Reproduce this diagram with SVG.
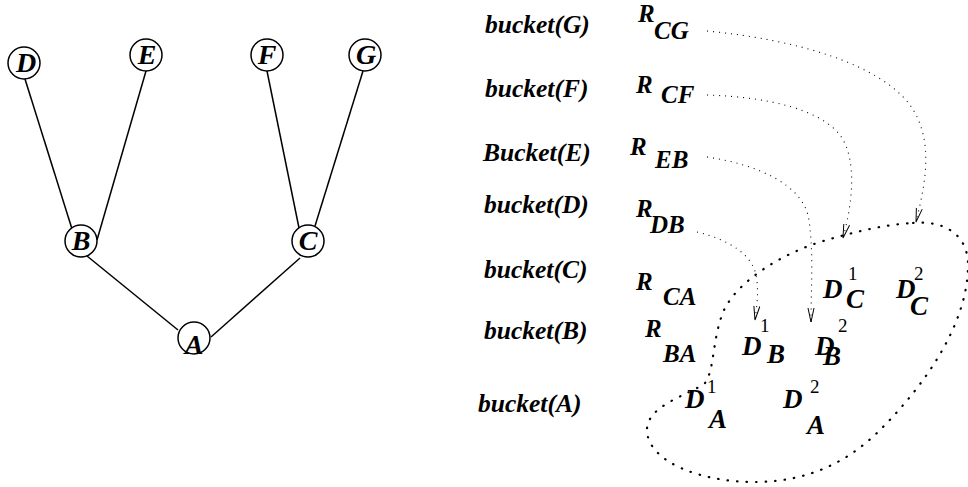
<svg xmlns="http://www.w3.org/2000/svg" width="968" height="487" viewBox="0 0 968 487">
<style>
  .bg{fill:#fff}
  .node circle{fill:#fff;stroke:#000;stroke-width:1.5}
  .nl{font-family:"Liberation Serif","Times New Roman",serif;font-weight:bold;font-style:italic;font-size:28px;text-anchor:middle;fill:#000}
  .edge{stroke:#000;stroke-width:1.5;fill:none}
  .lbl{font-family:"Liberation Serif","Times New Roman",serif;font-weight:bold;font-style:italic;font-size:25.5px;fill:#000}
  .r{font-family:"Liberation Serif","Times New Roman",serif;font-weight:bold;font-style:italic;font-size:25px;fill:#000}
  .d{font-family:"Liberation Serif","Times New Roman",serif;font-weight:bold;font-style:italic;font-size:27px;fill:#000}
  .sup{font-family:"Liberation Serif","Times New Roman",serif;font-size:19px;fill:#000}
  .arr{stroke:#000;stroke-width:1.1;fill:none;stroke-dasharray:1 5;marker-end:url(#v)}
  .blob{stroke:#000;stroke-width:2.2;fill:none;stroke-dasharray:0.5 9;stroke-linecap:round}
</style>
<defs>
  <marker id="v" markerUnits="userSpaceOnUse" markerWidth="16" markerHeight="10" refX="14" refY="4" orient="auto">
    <path d="M0,1 L14,4 L0,7" fill="none" stroke="#000" stroke-width="1"/>
  </marker>
</defs>
<rect class="bg" x="0" y="0" width="968" height="487"/>

<g id="tree-edges">
  <line class="edge" x1="25" y1="79" x2="72" y2="229"/>
  <line class="edge" x1="146" y1="71" x2="97" y2="240"/>
  <line class="edge" x1="267" y1="71" x2="299" y2="228"/>
  <line class="edge" x1="363" y1="71" x2="315" y2="226"/>
  <line class="edge" x1="87" y1="256" x2="178" y2="330"/>
  <line class="edge" x1="211" y1="337" x2="300" y2="258"/>
</g>

<g id="node-D" class="node"><circle cx="24" cy="63" r="16"/><text class="nl" x="26" y="72">D</text></g>
<g id="node-E" class="node"><circle cx="146" cy="55" r="16"/><text class="nl" x="147" y="64">E</text></g>
<g id="node-F" class="node"><circle cx="267" cy="55" r="16"/><text class="nl" x="267" y="64">F</text></g>
<g id="node-G" class="node"><circle cx="365" cy="55" r="16"/><text class="nl" x="366" y="64">G</text></g>
<g id="node-B" class="node"><circle cx="81" cy="241" r="16"/><text class="nl" x="81" y="250">B</text></g>
<g id="node-C" class="node"><circle cx="308" cy="241" r="16"/><text class="nl" x="308" y="250">C</text></g>
<g id="node-A" class="node"><circle cx="194" cy="338" r="16"/><text class="nl" x="194" y="354">A</text></g>

<g id="bucket-labels">
  <text class="lbl" x="485" y="33">bucket(G)</text>
  <text class="lbl" x="485" y="97">bucket(F)</text>
  <text class="lbl" x="483" y="161">Bucket(E)</text>
  <text class="lbl" x="484" y="213">bucket(D)</text>
  <text class="lbl" x="484" y="278">bucket(C)</text>
  <text class="lbl" x="484" y="339">bucket(B)</text>
  <text class="lbl" x="478" y="412">bucket(A)</text>
</g>

<g id="relations">
  <text class="r" x="638" y="22">R</text><text class="r" x="654" y="39">CG</text>
  <text class="r" x="636" y="93">R</text><text class="r" x="661" y="103">CF</text>
  <text class="r" x="630" y="155">R</text><text class="r" x="655" y="168">EB</text>
  <text class="r" x="636" y="217">R</text><text class="r" x="650" y="233">DB</text>
  <text class="r" x="636" y="290">R</text><text class="r" x="663" y="305">CA</text>
  <text class="r" x="645" y="337">R</text><text class="r" x="663" y="362">BA</text>
</g>

<g id="blob">
  <path class="blob" d="M913,223 C945,220 968,235 968,265 C968,320 930,380 880,430 C850,460 810,482 755,482 C700,482 650,462 647,432 C645,405 690,395 705,383 C715,370 712,335 725,308 C740,280 780,255 820,242 C860,230 890,224 913,223 Z"/>
</g>

<g id="d-items">
  <text class="d" x="742" y="355">D</text><text class="sup" x="760" y="332">1</text><text class="d" x="767" y="363">B</text>
  <text class="d" x="815" y="355">D</text><text class="sup" x="838" y="332">2</text><text class="d" x="823" y="365">B</text>
  <text class="d" x="823" y="298">D</text><text class="sup" x="848" y="280">1</text><text class="d" x="846" y="308">C</text>
  <text class="d" x="896" y="298">D</text><text class="sup" x="914" y="280">2</text><text class="d" x="910" y="315">C</text>
  <text class="d" x="685" y="408">D</text><text class="sup" x="707" y="393">1</text><text class="d" x="709" y="428">A</text>
  <text class="d" x="783" y="408">D</text><text class="sup" x="810" y="393">2</text><text class="d" x="807" y="434">A</text>
</g>

<g id="connectors">
  <path class="arr" d="M707,31 C800,40 880,65 910,105 C935,140 925,185 916,222"/>
  <path class="arr" d="M707,95 C770,97 820,110 840,135 C858,160 852,205 843,238"/>
  <path class="arr" d="M707,157 C760,165 800,185 808,215 C814,245 811,290 811,322"/>
  <path class="arr" d="M697,232 C730,240 752,255 756,275 C759,290 757,305 755,320"/>
</g>
</svg>
